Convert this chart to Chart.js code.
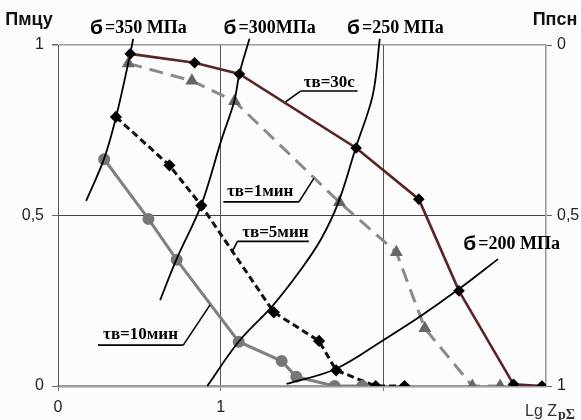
<!DOCTYPE html>
<html>
<head>
<meta charset="utf-8">
<script src="https://cdn.jsdelivr.net/npm/chart.js@4.4.1/dist/chart.umd.min.js"></script>
<style>
  html, body { margin: 0; padding: 0; background: #fcfcfc; }
  #wrap { width: 581px; height: 420px; }
</style>
</head>
<body>
<div id="wrap"><canvas id="c" width="581" height="420"></canvas></div>
<script>
// Lg Z (x) and П (y) values for each holding time
const lgZ30s  = [0.444, 0.840, 1.115, 1.833, 2.218, 2.465, 2.800, 2.975];
const p30s    = [0.974, 0.948, 0.915, 0.698, 0.548, 0.279, 0.005, 0.000];

const lgZ1min = [0.432, 0.823, 1.085, 1.730, 2.080, 2.255, 2.547, 2.718];
const p1min   = [0.946, 0.895, 0.835, 0.539, 0.392, 0.169, 0.000, 0.000];

const lgZ5min = [0.356, 0.685, 0.881, 1.327, 1.605, 1.710, 1.953, 2.130];
const p5min   = [0.789, 0.647, 0.529, 0.216, 0.132, 0.046, 0.000, 0.000];

const lgZ10min = [0.284, 0.556, 0.730, 1.111, 1.375, 1.465, 1.700, 1.870];
const p10min   = [0.665, 0.490, 0.370, 0.130, 0.073, 0.027, 0.000, 0.000];

// Constant-stress curves
const lgZs350 = [0.173, 0.283, 0.357, 0.444, 0.462];
const ps350   = [0.543, 0.666, 0.789, 0.974, 1.018];

const lgZs300 = [0.628, 0.727, 0.881, 1.004, 1.084, 1.115, 1.177];
const ps300   = [0.252, 0.370, 0.531, 0.721, 0.836, 0.915, 1.018];

const lgZs250 = [0.918, 1.109, 1.319, 1.491, 1.614, 1.725, 1.830, 1.935, 1.978];
const ps250   = [0.000, 0.129, 0.235, 0.340, 0.428, 0.540, 0.698, 0.853, 1.018];

const lgZs200 = [1.405, 1.707, 2.002, 2.230, 2.458, 2.705];
const ps200   = [0.006, 0.050, 0.135, 0.205, 0.282, 0.372];

// Axis tick labels
const xTickLabels = { 0: '0', 1: '1' };
const yTickLabels = { 0: '0', 0.5: '0,5', 1: '1' };

const pts = (xs, ys) => xs.map((x, i) => ({ x: x, y: ys[i] }));

const stressCurve = (xs, ys) => ({
  data: pts(xs, ys),
  borderColor: '#000',
  borderWidth: 1.8,
  pointRadius: 0,
  tension: 0.35,
  clip: false,
  fill: false
});

// Annotations: stress labels and holding-time callouts (in data units)
const stressLabels = [
  { x: 0.197, y: 1.035, text: '=350 МПа' },
  { x: 1.017, y: 1.035, text: '=300МПа' },
  { x: 1.777, y: 1.035, text: '=250 МПа' },
  { x: 2.492, y: 0.402, text: '=200 МПа' }
];
const timeLabels = [
  { x: 1.510, y: 0.877, text: 'τв=30с',  u0: 1.491, u1: 1.842, uy: 0.865, lx: 1.491, lxe: 1.399, lye: 0.833 },
  { x: 1.039, y: 0.557, text: 'τв=1мин', u0: 1.017, u1: 1.481, uy: 0.540, lx: 1.481, lxe: 1.573, lye: 0.609 },
  { x: 1.132, y: 0.437, text: 'τв=5мин', u0: 1.103, u1: 1.542, uy: 0.424, lx: 1.103, lxe: 1.068, lye: 0.391 },
  { x: 0.277, y: 0.138, text: 'τв=10мин', u0: 0.246, u1: 0.770, uy: 0.120, lx: 0.770, lxe: 0.935, lye: 0.238 }
];

const annotations = {
  id: 'annotations',
  afterDraw(chart) {
    const c = chart.ctx;
    const xs = chart.scales.x, ys = chart.scales.y;
    const area = chart.chartArea;
    c.save();
    c.fillStyle = '#111';
    c.textBaseline = 'alphabetic';

    // axis titles
    c.font = 'bold 18px "Liberation Sans", Arial, sans-serif';
    c.textAlign = 'center';
    c.fillText('Пмцу', area.left - 29, area.top - 20);
    c.fillText('Ппсн', area.right + 9, area.top - 20);

    // x axis title with subscript
    c.textAlign = 'left';
    c.fillStyle = '#333';
    c.font = '16px "Liberation Sans", Arial, sans-serif';
    c.fillText('Lg Z', area.right - 21, area.bottom + 30);
    const w = c.measureText('Lg Z').width;
    c.font = 'bold 14px "Liberation Serif", serif';
    c.fillText('pΣ', area.right - 21 + w + 1, area.bottom + 33);

    // stress labels
    c.fillStyle = '#000';
    stressLabels.forEach(l => {
      const px = xs.getPixelForValue(l.x), py = ys.getPixelForValue(l.y);
      c.font = 'bold 21px "Liberation Sans", Arial, sans-serif';
      c.fillText('б', px, py + 1);
      const bw = c.measureText('б').width;
      c.font = 'bold 18px "Liberation Serif", "Times New Roman", serif';
      c.fillText(l.text, px + bw + 2, py);
    });

    // holding-time callouts
    c.strokeStyle = '#000';
    c.lineWidth = 1.6;
    timeLabels.forEach(l => {
      c.font = 'bold 17px "Liberation Serif", "Times New Roman", serif';
      c.fillText(l.text, xs.getPixelForValue(l.x), ys.getPixelForValue(l.y));
      c.beginPath();
      c.moveTo(xs.getPixelForValue(l.u0), ys.getPixelForValue(l.uy));
      c.lineTo(xs.getPixelForValue(l.u1), ys.getPixelForValue(l.uy));
      c.stroke();
      c.beginPath();
      c.moveTo(xs.getPixelForValue(l.lx), ys.getPixelForValue(l.uy));
      c.lineTo(xs.getPixelForValue(l.lxe), ys.getPixelForValue(l.lye));
      c.stroke();
    });
    c.restore();
  }
};

const tickFont = { family: '"Liberation Sans", Arial, sans-serif', size: 16 };

new Chart(document.getElementById('c'), {
  type: 'line',
  data: {
    datasets: [
      stressCurve(lgZs350, ps350),
      stressCurve(lgZs300, ps300),
      stressCurve(lgZs250, ps250),
      stressCurve(lgZs200, ps200),
      {
        label: 'τв=10мин',
        data: pts(lgZ10min, p10min),
        borderColor: '#808080',
        borderWidth: 3,
        pointStyle: 'circle',
        pointRadius: 4.5,
        pointBackgroundColor: '#777',
        pointBorderColor: '#777',
        tension: 0
      },
      {
        label: 'τв=5мин',
        data: pts(lgZ5min, p5min),
        borderColor: '#111',
        borderWidth: 3,
        borderDash: [7, 4],
        pointStyle: 'rectRot',
        pointRadius: 4,
        pointBackgroundColor: '#000',
        pointBorderColor: '#000',
        tension: 0
      },
      {
        label: 'τв=1мин',
        data: pts(lgZ1min, p1min),
        borderColor: '#8a8a8a',
        borderWidth: 3,
        borderDash: [14, 8],
        pointStyle: 'triangle',
        pointRadius: 4.5,
        pointBackgroundColor: '#666',
        pointBorderColor: '#666',
        tension: 0
      },
      {
        label: 'τв=30с',
        data: pts(lgZ30s, p30s),
        borderColor: '#5a2424',
        borderWidth: 2.6,
        pointStyle: 'rectRot',
        pointRadius: 4,
        pointBackgroundColor: '#000',
        pointBorderColor: '#000',
        tension: 0
      }
    ]
  },
  options: {
    responsive: false,
    animation: false,
    events: [],
    layout: { padding: { top: 45, left: 0, right: 0, bottom: 0 } },
    plugins: { legend: { display: false }, tooltip: { enabled: false } },
    scales: {
      x: {
        type: 'linear',
        position: 'bottom',
        min: 0, max: 3,
        afterFit: s => { s.height = 34; },
        ticks: {
          stepSize: 1,
          color: '#222',
          font: tickFont,
          padding: 7,
          maxRotation: 0,
          callback: v => xTickLabels[v] !== undefined ? xTickLabels[v] : ''
        },
        grid: {
          color: c => (c.tick && (c.tick.value === 1 || c.tick.value === 2)) ? '#555' : 'rgba(0,0,0,0)',
          tickColor: c => (c.tick && (c.tick.value === 0 || c.tick.value === 1 || c.tick.value === 2)) ? '#777' : 'rgba(0,0,0,0)',
          tickLength: 5,
          lineWidth: 1
        },
        border: { color: '#9a9a9a', width: 2.5 }
      },
      y: {
        position: 'left',
        min: 0, max: 1,
        afterFit: s => { s.width = 58; },
        ticks: {
          stepSize: 0.5,
          color: '#222',
          font: tickFont,
          padding: 8,
          callback: v => yTickLabels[v] !== undefined ? yTickLabels[v] : ''
        },
        grid: {
          color: c => c.tick && c.tick.value === 0.5 ? '#444' : (c.tick && c.tick.value === 1 ? '#9a9a9a' : 'rgba(0,0,0,0)'),
          lineWidth: c => c.tick && c.tick.value === 1 ? 1.5 : 1,
          tickColor: '#666',
          tickLength: 6
        },
        border: { color: '#555', width: 1 }
      },
      y2: {
        position: 'right',
        min: 0, max: 1,
        reverse: true,
        afterFit: s => { s.width = 35; },
        ticks: {
          stepSize: 0.5,
          color: '#222',
          font: tickFont,
          padding: 5,
          callback: v => yTickLabels[v] !== undefined ? yTickLabels[v] : ''
        },
        grid: { drawOnChartArea: false, tickColor: '#666', tickLength: 6 },
        border: { color: '#9a9a9a', width: 1.5 }
      }
    }
  },
  plugins: [annotations]
});
</script>
</body>
</html>
